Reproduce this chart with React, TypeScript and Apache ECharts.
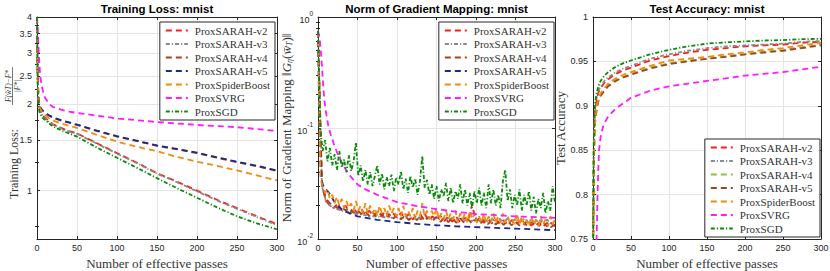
import React, { useEffect, useRef } from 'react';
import * as echarts from 'echarts';

const NAMES = ['ProxSARAH-v2', 'ProxSARAH-v3', 'ProxSARAH-v4', 'ProxSARAH-v5', 'ProxSpiderBoost', 'ProxSVRG', 'ProxSGD'];
const COLORS_A = ['#ff1a1a', '#8a8a8a', '#a8421a', '#1c2a8a', '#f08a10', '#ff1aff', '#0a8a0a'];
const COLORS_C = ['#ff1a1a', '#8a8a8a', '#8cc43c', '#a0461e', '#f08a10', '#ff1aff', '#0a8a0a'];
const DASH = [6, 4];
const DASHDOT = [4, 2, 1.2, 2];
const STYLES = [DASH, DASHDOT, DASH, DASH, DASH, DASH, DASHDOT];

const X_TICKS = [0, 50, 100, 150, 200, 250, 300];

// ---------- Panel 1: Training loss ----------
const P1_TICKS = [1, 1.5, 2, 2.5, 3, 3.5, 4];
const P1_MINOR = [0.75, 1.25, 1.75, 2.25, 2.75, 3.25, 3.75];
const P1_MIN = 0.68;
const P1_MAX = 4;
const P1_X = [0, 1, 2, 3, 5, 7, 10, 15, 20, 30, 40, 50, 75, 100, 125, 150, 175, 200, 225, 250, 275, 300];
const P1_V2 = [4.0, 2.4, 2.02, 1.94, 1.87, 1.83, 1.79, 1.74, 1.70, 1.65, 1.61, 1.58, 1.46, 1.35, 1.25, 1.15, 1.075, 1.0, 0.93, 0.87, 0.815, 0.765];
const P1_V3 = [4.0, 2.35, 2.0, 1.93, 1.86, 1.82, 1.78, 1.73, 1.695, 1.645, 1.605, 1.575, 1.455, 1.345, 1.245, 1.145, 1.07, 0.995, 0.925, 0.865, 0.81, 0.758];
const P1_V4 = [4.0, 2.45, 2.05, 1.97, 1.92, 1.89, 1.86, 1.82, 1.79, 1.75, 1.72, 1.69, 1.61, 1.54, 1.485, 1.43, 1.39, 1.35, 1.30, 1.255, 1.215, 1.17];
const P1_V5 = [4.0, 2.45, 2.06, 1.98, 1.925, 1.895, 1.865, 1.825, 1.795, 1.755, 1.725, 1.695, 1.615, 1.545, 1.49, 1.435, 1.395, 1.355, 1.305, 1.26, 1.22, 1.175];
const P1_SB = [4.0, 2.4, 2.03, 1.95, 1.9, 1.86, 1.83, 1.78, 1.75, 1.71, 1.68, 1.65, 1.56, 1.48, 1.42, 1.37, 1.31, 1.26, 1.22, 1.175, 1.13, 1.085];
const P1_SGD = [4.0, 2.2, 1.95, 1.88, 1.83, 1.79, 1.76, 1.71, 1.67, 1.62, 1.58, 1.54, 1.41, 1.30, 1.20, 1.105, 1.02, 0.945, 0.875, 0.815, 0.77, 0.735];
const P1_SVRG_X = [0, 1, 2, 3, 4, 6, 8, 10, 15, 20, 30, 40, 50, 75, 100, 125, 150, 175, 200, 225, 250, 275, 300];
const P1_SVRG = [4.0, 3.6, 3.1, 2.75, 2.5, 2.3, 2.18, 2.1, 2.0, 1.95, 1.91, 1.88, 1.86, 1.82, 1.78, 1.755, 1.73, 1.71, 1.69, 1.675, 1.66, 1.635, 1.61];

// ---------- Panel 2: Norm of gradient mapping ----------
const P2_TICKS = [0.01, 0.1, 1];
const P2_MINOR = [0.02, 0.03, 0.04, 0.05, 0.06, 0.07, 0.08, 0.09, 0.2, 0.3, 0.4, 0.5, 0.6, 0.7, 0.8, 0.9];
const P2_MIN = 0.01;
const P2_MAX = 1;
const P2_X3 = Array.from({ length: 101 }, (_, i) => i * 3);
const P2_X5 = Array.from({ length: 61 }, (_, i) => i * 5);
const P2_V2 = [
  0.75, 0.03, 0.022, 0.02, 0.019, 0.021, 0.018, 0.02, 0.017, 0.019,
  0.017, 0.0185, 0.0165, 0.018, 0.016, 0.0175, 0.016, 0.0178, 0.0158, 0.017,
  0.0155, 0.0172, 0.0155, 0.0168, 0.015, 0.0165, 0.015, 0.0168, 0.0148, 0.016,
  0.0148, 0.0162, 0.0145, 0.016, 0.0143, 0.0158, 0.0142, 0.0155, 0.0145, 0.0205,
  0.0145, 0.0155, 0.014, 0.0152, 0.0138, 0.015, 0.0137, 0.0148, 0.0135, 0.0147,
  0.0135, 0.0145, 0.0133, 0.0146, 0.0132, 0.0143, 0.0131, 0.0142, 0.013, 0.014,
  0.013,
];
const P2_V3 = [
  0.75, 0.03, 0.022, 0.02, 0.0192, 0.0185, 0.018, 0.0176, 0.0173, 0.017,
  0.0168, 0.0166, 0.0164, 0.0162, 0.016, 0.0159, 0.0158, 0.0157, 0.0156, 0.0155,
  0.0156, 0.0153, 0.0157, 0.0152, 0.0155, 0.0151, 0.0156, 0.015, 0.0155, 0.0149,
  0.0157, 0.0148, 0.0156, 0.0147, 0.0155, 0.0146, 0.0157, 0.0145, 0.0154, 0.0145,
  0.0155, 0.0144, 0.0153, 0.0143, 0.0154, 0.0142, 0.0152, 0.0142, 0.0153, 0.0141,
  0.0152, 0.014, 0.0151, 0.014, 0.015, 0.0139, 0.015, 0.0138, 0.0149, 0.0138,
  0.0145,
];
const P2_V4 = [
  0.75, 0.032, 0.023, 0.021, 0.02, 0.019, 0.0195, 0.018, 0.019, 0.0172,
  0.0182, 0.0168, 0.0178, 0.016, 0.0172, 0.0158, 0.017, 0.0155, 0.0168, 0.0152,
  0.0165, 0.015, 0.0163, 0.0148, 0.016, 0.0148, 0.0165, 0.0146, 0.0158, 0.0145,
  0.0158, 0.0143, 0.0155, 0.0142, 0.0155, 0.014, 0.0153, 0.014, 0.015, 0.0138,
  0.0152, 0.0137, 0.0148, 0.0136, 0.0147, 0.0135, 0.0146, 0.0134, 0.0145, 0.0133,
  0.0144, 0.0132, 0.0143, 0.0131, 0.0142, 0.013, 0.0141, 0.0129, 0.014, 0.0128,
  0.0135,
];
const P2_V5_X = [0, 2, 4, 6, 8, 12, 16, 20, 25, 30, 40, 50, 75, 100, 125, 150, 175, 200, 225, 250, 275, 300];
const P2_V5 = [0.75, 0.08, 0.036, 0.031, 0.029, 0.027, 0.025, 0.022, 0.02, 0.0185, 0.017, 0.016, 0.0149, 0.0142, 0.0137, 0.0133, 0.013, 0.0128, 0.0126, 0.0124, 0.0122, 0.012];
const P2_SB = [
  0.75, 0.036, 0.029, 0.026, 0.028, 0.023, 0.025, 0.021, 0.024, 0.02,
  0.023, 0.019, 0.022, 0.019, 0.021, 0.018, 0.022, 0.018, 0.02, 0.017,
  0.021, 0.017, 0.02, 0.017, 0.019, 0.016, 0.02, 0.017, 0.019, 0.016,
  0.02, 0.017, 0.019, 0.016, 0.019, 0.016, 0.02, 0.016, 0.018, 0.016,
  0.019, 0.015, 0.018, 0.016, 0.021, 0.016, 0.018, 0.015, 0.018, 0.016,
  0.019, 0.015, 0.017, 0.015, 0.018, 0.015, 0.017, 0.015, 0.018, 0.014,
  0.017, 0.015, 0.017, 0.014, 0.018, 0.015, 0.017, 0.014, 0.016, 0.014,
  0.017, 0.014, 0.016, 0.014, 0.017, 0.014, 0.016, 0.014, 0.017, 0.014,
  0.016, 0.014, 0.015, 0.0135, 0.017, 0.0135, 0.016, 0.0135, 0.015, 0.013,
  0.016, 0.0135, 0.015, 0.013, 0.016, 0.0135, 0.015, 0.013, 0.016, 0.0135,
  0.015,
];
const P2_SVRG_X = [0, 2, 3, 4, 5, 6, 7, 8, 10, 13, 16, 20, 25, 30, 37, 45, 50, 60, 75, 100, 125, 150, 175, 200, 250, 300];
const P2_SVRG = [0.75, 0.65, 0.55, 0.45, 0.36, 0.28, 0.22, 0.18, 0.14, 0.105, 0.088, 0.072, 0.058, 0.049, 0.04, 0.034, 0.031, 0.028, 0.025, 0.0215, 0.0198, 0.0186, 0.0176, 0.0168, 0.016, 0.0155];
const P2_SGD = [
  0.75, 0.095, 0.062, 0.078, 0.05, 0.066, 0.046, 0.058, 0.042, 0.062,
  0.044, 0.052, 0.04, 0.057, 0.041, 0.05, 0.074, 0.037, 0.046, 0.033,
  0.042, 0.031, 0.04, 0.03, 0.037, 0.046, 0.031, 0.039, 0.028, 0.036,
  0.03, 0.038, 0.027, 0.036, 0.031, 0.041, 0.028, 0.035, 0.026, 0.037,
  0.029, 0.035, 0.025, 0.033, 0.056, 0.029, 0.034, 0.025, 0.031, 0.023,
  0.03, 0.022, 0.028, 0.024, 0.032, 0.022, 0.029, 0.021, 0.027, 0.023,
  0.031, 0.021, 0.028, 0.02, 0.026, 0.019, 0.027, 0.021, 0.029, 0.02,
  0.026, 0.019, 0.031, 0.021, 0.028, 0.02, 0.025, 0.019, 0.033, 0.042,
  0.022, 0.028, 0.019, 0.025, 0.02, 0.028, 0.018, 0.025, 0.02, 0.027,
  0.018, 0.024, 0.017, 0.023, 0.019, 0.026, 0.017, 0.022, 0.018, 0.03,
  0.021,
];

// ---------- Panel 3: Test accuracy ----------
const P3_MIN = 0.75;
const P3_MAX = 1;
const P3_X = [0, 1, 2, 3, 5, 7, 10, 15, 20, 30, 40, 50, 75, 100, 125, 150, 175, 200, 225, 250, 275, 300];
const P3_V2 = [0.72, 0.85, 0.882, 0.897, 0.908, 0.915, 0.92, 0.926, 0.93, 0.936, 0.94, 0.943, 0.951, 0.956, 0.96, 0.963, 0.965, 0.967, 0.968, 0.969, 0.971, 0.972];
const P3_V3 = [0.72, 0.85, 0.885, 0.9, 0.91, 0.917, 0.922, 0.928, 0.932, 0.938, 0.942, 0.945, 0.953, 0.958, 0.962, 0.965, 0.967, 0.968, 0.969, 0.970, 0.972, 0.973];
const P3_V4 = [0.72, 0.83, 0.87, 0.885, 0.898, 0.906, 0.912, 0.918, 0.923, 0.929, 0.933, 0.936, 0.943, 0.948, 0.951, 0.953, 0.956, 0.958, 0.961, 0.963, 0.966, 0.969];
const P3_V5 = [0.72, 0.83, 0.868, 0.884, 0.897, 0.905, 0.911, 0.917, 0.922, 0.928, 0.932, 0.935, 0.942, 0.947, 0.950, 0.953, 0.955, 0.958, 0.960, 0.962, 0.965, 0.968];
const P3_SB = [0.72, 0.83, 0.87, 0.886, 0.9, 0.908, 0.914, 0.92, 0.925, 0.931, 0.935, 0.938, 0.945, 0.951, 0.953, 0.955, 0.958, 0.96, 0.963, 0.965, 0.968, 0.971];
const P3_SGD = [0.72, 0.86, 0.89, 0.905, 0.915, 0.922, 0.928, 0.934, 0.938, 0.944, 0.948, 0.951, 0.958, 0.963, 0.967, 0.970, 0.9715, 0.9725, 0.9735, 0.974, 0.975, 0.9755];
const P3_SVRG_X = [0, 4, 5, 6, 7, 8, 10, 13, 16, 20, 30, 40, 50, 75, 100, 125, 150, 175, 200, 225, 250, 275, 300];
const P3_SVRG = [0.5, 0.72, 0.76, 0.8, 0.83, 0.85, 0.865, 0.876, 0.882, 0.888, 0.897, 0.903, 0.909, 0.917, 0.922, 0.925, 0.928, 0.931, 0.934, 0.936, 0.938, 0.941, 0.944];

const AX = '#262626';
const GRID_C = '#e4e4e4';
const TXT = '#333333';
const SANS = 'Liberation Sans, Arial, Helvetica, sans-serif';
const SERIF = 'Liberation Serif, Times New Roman, serif';

function buildOption() {
  const grids = [
    { left: 37, top: 17, width: 240, height: 222 },
    { left: 318, top: 17, width: 237, height: 222 },
    { left: 593, top: 17, width: 228, height: 222 },
  ].map((g) => ({ ...g, containLabel: false, outerBoundsMode: 'none' }));

  const lineSt = { color: AX, width: 1 };
  const xAxis: any[] = [];
  for (let g = 0; g < 3; g++) {
    xAxis.push({
      type: 'value', gridIndex: g, min: 0, max: 300, interval: 50, position: 'bottom',
      axisLine: { show: true, onZero: false, lineStyle: lineSt },
      axisTick: { show: true, inside: true, length: 3, lineStyle: lineSt },
      axisLabel: { show: true, margin: 4, fontSize: 9, color: AX, fontFamily: SANS,
        customValues: X_TICKS },
      splitLine: { show: true, lineStyle: { color: GRID_C, width: 1 } },
      name: 'Number of effective passes', nameLocation: 'middle', nameGap: 13,
      nameTextStyle: { fontFamily: SERIF, fontSize: 13, color: TXT },
    });
    xAxis.push({
      type: 'value', gridIndex: g, min: 0, max: 300, interval: 50, position: 'top',
      axisLine: { show: true, onZero: false, lineStyle: lineSt },
      axisTick: { show: true, inside: true, length: 3, lineStyle: lineSt },
      axisLabel: { show: false }, splitLine: { show: false },
    });
  }

  const yAxis: any[] = [];
  const addY = (o: any) => { yAxis.push(o); return yAxis.length - 1; };
  const lg = (v: number) => Math.log10(v);

  // Panel 1 (log, transformed)
  const p1Main = addY({
    type: 'value', gridIndex: 0, min: lg(P1_MIN), max: lg(P1_MAX), position: 'left',
    axisLine: { show: true, onZero: false, lineStyle: lineSt },
    axisTick: { show: true, inside: true, length: 3, lineStyle: lineSt, customValues: P1_TICKS.map(lg) },
    axisLabel: { show: true, margin: 5, fontSize: 9, color: AX, fontFamily: SANS, customValues: P1_TICKS.map(lg),
      formatter: (v: number) => String(Math.round(Math.pow(10, v) * 100) / 100) },
    splitLine: { show: true, lineStyle: { color: GRID_C, width: 1 } },
  });
  addY({
    type: 'value', gridIndex: 0, min: lg(P1_MIN), max: lg(P1_MAX), position: 'right',
    axisLine: { show: true, onZero: false, lineStyle: lineSt },
    axisTick: { show: true, inside: true, length: 3, lineStyle: lineSt, customValues: P1_TICKS.map(lg) },
    axisLabel: { show: false }, splitLine: { show: false },
  });
  ['left', 'right'].forEach((pos) => addY({
    type: 'value', gridIndex: 0, min: lg(P1_MIN), max: lg(P1_MAX), position: pos,
    axisLine: { show: false },
    axisTick: { show: true, inside: true, length: 2, lineStyle: lineSt, customValues: P1_MINOR.map(lg) },
    axisLabel: { show: false }, splitLine: { show: false },
  }));

  // Panel 2 (log, transformed)
  const p2Main = addY({
    type: 'value', gridIndex: 1, min: lg(P2_MIN), max: lg(P2_MAX), position: 'left',
    axisLine: { show: true, onZero: false, lineStyle: lineSt },
    axisTick: { show: true, inside: true, length: 3, lineStyle: lineSt, customValues: P2_TICKS.map(lg) },
    axisLabel: { show: true, margin: 5, color: AX, customValues: P2_TICKS.map(lg),
      formatter: (v: number) => '{b|10}{s|' + Math.round(v) + '}',
      rich: {
        b: { fontSize: 9, fontFamily: SANS, color: AX, lineHeight: 14, verticalAlign: 'bottom' },
        s: { fontSize: 6.5, fontFamily: SANS, color: AX, verticalAlign: 'top' },
      } },
    splitLine: { show: true, lineStyle: { color: GRID_C, width: 1 } },
    name: '{n|Norm of Gradient Mapping }{n|‖}{i|G}{s|η}{n|(}{i|w̄}{s|T}{n|)‖}',
    nameLocation: 'middle', nameGap: 21, nameRotate: 90,
    nameTextStyle: {
      rich: {
        n: { fontFamily: SERIF, fontSize: 13, color: TXT },
        i: { fontFamily: SERIF, fontSize: 13, color: TXT, fontStyle: 'italic' },
        s: { fontFamily: SERIF, fontSize: 8, color: TXT, fontStyle: 'italic', verticalAlign: 'bottom' },
      },
    },
  });
  addY({
    type: 'value', gridIndex: 1, min: lg(P2_MIN), max: lg(P2_MAX), position: 'right',
    axisLine: { show: true, onZero: false, lineStyle: lineSt },
    axisTick: { show: true, inside: true, length: 3, lineStyle: lineSt, customValues: P2_TICKS.map(lg) },
    axisLabel: { show: false }, splitLine: { show: false },
  });
  ['left', 'right'].forEach((pos) => addY({
    type: 'value', gridIndex: 1, min: lg(P2_MIN), max: lg(P2_MAX), position: pos,
    axisLine: { show: false },
    axisTick: { show: true, inside: true, length: 2, lineStyle: lineSt, customValues: P2_MINOR.map(lg) },
    axisLabel: { show: false }, splitLine: { show: false },
  }));

  // Panel 3 (linear)
  const p3Main = addY({
    type: 'value', gridIndex: 2, min: P3_MIN, max: P3_MAX, interval: 0.05, position: 'left',
    axisLine: { show: true, onZero: false, lineStyle: lineSt },
    axisTick: { show: true, inside: true, length: 3, lineStyle: lineSt },
    axisLabel: { show: true, margin: 5, fontSize: 9, color: AX, fontFamily: SANS,
      formatter: (v: number) => String(Math.round(v * 100) / 100) },
    splitLine: { show: true, lineStyle: { color: GRID_C, width: 1 } },
    name: 'Test Accuracy', nameLocation: 'middle', nameGap: 21, nameRotate: 90,
    nameTextStyle: { fontFamily: SERIF, fontSize: 13, color: TXT },
  });
  addY({
    type: 'value', gridIndex: 2, min: P3_MIN, max: P3_MAX, interval: 0.05, position: 'right',
    axisLine: { show: true, onZero: false, lineStyle: lineSt },
    axisTick: { show: true, inside: true, length: 3, lineStyle: lineSt },
    axisLabel: { show: false }, splitLine: { show: false },
  });

  const series: any[] = [];
  const mk = (panel: number, idx: number, yIdx: number, xs: number[], vs: number[], log: boolean, colors: string[]) => {
    const color = colors[idx];
    series.push({
      type: 'line', name: NAMES[idx] + '|' + panel, xAxisIndex: panel * 2, yAxisIndex: yIdx,
      data: xs.map((x, i) => [x, log ? Math.log10(vs[i]) : vs[i]]),
      symbol: 'none', showSymbol: false, clip: true,
      lineStyle: { color, width: 1.8, type: STYLES[idx] },
      itemStyle: { color },
    });
  };
  // Panel 1
  mk(0, 0, p1Main, P1_X, P1_V2, true, COLORS_A);
  mk(0, 1, p1Main, P1_X, P1_V3, true, COLORS_A);
  mk(0, 2, p1Main, P1_X, P1_V4, true, COLORS_A);
  mk(0, 3, p1Main, P1_X, P1_V5, true, COLORS_A);
  mk(0, 4, p1Main, P1_X, P1_SB, true, COLORS_A);
  mk(0, 5, p1Main, P1_SVRG_X, P1_SVRG, true, COLORS_A);
  mk(0, 6, p1Main, P1_X, P1_SGD, true, COLORS_A);
  // Panel 2
  mk(1, 0, p2Main, P2_X5, P2_V2, true, COLORS_A);
  mk(1, 1, p2Main, P2_X5, P2_V3, true, COLORS_A);
  mk(1, 2, p2Main, P2_X5, P2_V4, true, COLORS_A);
  mk(1, 3, p2Main, P2_V5_X, P2_V5, true, COLORS_A);
  mk(1, 4, p2Main, P2_X3, P2_SB, true, COLORS_A);
  mk(1, 5, p2Main, P2_SVRG_X, P2_SVRG, true, COLORS_A);
  mk(1, 6, p2Main, P2_X3, P2_SGD, true, COLORS_A);
  // Panel 3
  mk(2, 0, p3Main, P3_X, P3_V2, false, COLORS_C);
  mk(2, 1, p3Main, P3_X, P3_V3, false, COLORS_C);
  mk(2, 2, p3Main, P3_X, P3_V4, false, COLORS_C);
  mk(2, 3, p3Main, P3_X, P3_V5, false, COLORS_C);
  mk(2, 4, p3Main, P3_X, P3_SB, false, COLORS_C);
  mk(2, 5, p3Main, P3_SVRG_X, P3_SVRG, false, COLORS_C);
  mk(2, 6, p3Main, P3_X, P3_SGD, false, COLORS_C);

  const legendBase = {
    show: true, orient: 'vertical', align: 'left', selectedMode: false,
    itemWidth: 22, itemHeight: 10, itemGap: 2.5, padding: [3, 5, 3, 5],
    backgroundColor: '#ffffff', borderColor: AX, borderWidth: 1,
    textStyle: { fontFamily: SERIF, fontSize: 11, color: TXT, padding: [0, 0, 0, 2] },
    itemStyle: { opacity: 0 },
    formatter: (n: string) => n.split('|')[0],
  };
  const legend = [
    { ...legendBase, right: 555, top: 22, data: NAMES.map((n) => n + '|0') },
    { ...legendBase, right: 276, top: 22, data: NAMES.map((n) => n + '|1') },
    { ...legendBase, right: 10, bottom: 34, data: NAMES.map((n) => n + '|2') },
  ];

  const titleStyle = { fontFamily: SANS, fontWeight: 'bold', fontSize: 11.5, fill: '#000', align: 'center', verticalAlign: 'middle' };
  const graphic = [
    { type: 'text', x: 157, y: 9, style: { ...titleStyle, text: 'Training Loss: mnist' } },
    { type: 'text', x: 436.5, y: 9, style: { ...titleStyle, text: 'Norm of Gradient Mapping: mnist' } },
    { type: 'text', x: 707, y: 9, style: { ...titleStyle, text: 'Test Accuracy: mnist' } },
    { type: 'text', x: 14, y: 164, rotation: Math.PI / 2,
      style: { text: 'Training Loss:', fontFamily: SERIF, fontSize: 12, fill: TXT, align: 'center', verticalAlign: 'middle' } },
    { type: 'text', x: 8, y: 86, rotation: Math.PI / 2,
      style: { text: 'F(w̃T)−F*', fontFamily: SERIF, fontSize: 7.5, fontStyle: 'italic', fill: TXT, align: 'center', verticalAlign: 'middle' } },
    { type: 'line', shape: { x1: 12.5, y1: 67, x2: 12.5, y2: 105 }, style: { stroke: '#555555', lineWidth: 0.8 } },
    { type: 'text', x: 17.5, y: 86, rotation: Math.PI / 2,
      style: { text: '|F*|', fontFamily: SERIF, fontSize: 7.5, fontStyle: 'italic', fill: TXT, align: 'center', verticalAlign: 'middle' } },
  ];

  return {
    animation: false,
    backgroundColor: '#ffffff',
    grid: grids,
    xAxis,
    yAxis,
    series,
    legend,
    graphic,
  };
}

export default function App() {
  const ref = useRef<HTMLDivElement>(null);
  useEffect(() => {
    if (!ref.current) return;
    const chart = echarts.init(ref.current, undefined, { renderer: 'svg' });
    chart.setOption(buildOption() as any);
    return () => chart.dispose();
  }, []);
  return <div ref={ref} style={{ position: 'absolute', left: 0, top: 0, width: 830, height: 271 }} />;
}
